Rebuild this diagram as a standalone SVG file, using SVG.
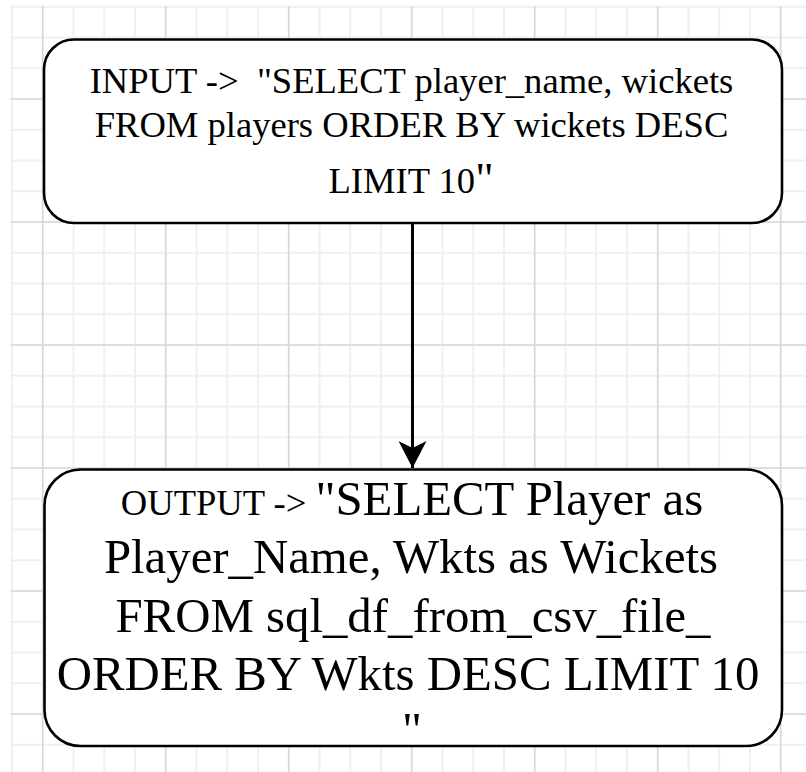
<svg xmlns="http://www.w3.org/2000/svg" width="806" height="772" viewBox="0 0 806 772">
<style>
.minor{stroke:#f0f0f0;stroke-width:2}
.major{stroke:#d8d8d8;stroke-width:1.5}
.box{fill:#ffffff;stroke:#000000;stroke-width:2.6}
.t{font-family:"Liberation Serif","Times New Roman",serif;fill:#000000;text-anchor:middle}
.s{font-size:36.6px}
.b{font-size:48.8px}
.edge{stroke:#000000;stroke-width:3;fill:none}
</style>
<defs>
<marker id="arrow" viewBox="0 0 28 28" markerWidth="28" markerHeight="28" refX="27" refY="14" orient="auto" markerUnits="userSpaceOnUse">
<path d="M0,0 L27,14 L0,28 L7,14 Z" fill="#000000"/>
</marker>
</defs>
<rect x="0" y="0" width="806" height="772" fill="#ffffff"/>
<g id="grid">
<g class="minor">
<path d="M12,6V772M42.7,6V772M73.5,6V772M104.2,6V772M135,6V772M165.7,6V772M196.5,6V772M227.2,6V772M258,6V772M288.7,6V772M319.5,6V772M350.2,6V772M381,6V772M411.7,6V772M442.5,6V772M473.2,6V772M504,6V772M534.7,6V772M565.5,6V772M596.2,6V772M627,6V772M657.7,6V772M688.5,6V772M719.2,6V772M750,6V772M780.7,6V772"/>
<path d="M10,6.8H806M10,37.5H806M10,68.3H806M10,99H806M10,129.8H806M10,160.5H806M10,191.3H806M10,222H806M10,252.8H806M10,283.5H806M10,314.3H806M10,345H806M10,375.8H806M10,406.5H806M10,437.3H806M10,468H806M10,498.8H806M10,529.5H806M10,560.3H806M10,591H806M10,621.8H806M10,652.5H806M10,683.3H806M10,714H806M10,744.8H806"/>
</g>
<g class="major">
<path d="M42.7,6V772M165.7,6V772M288.7,6V772M411.7,6V772M534.7,6V772M657.7,6V772M780.7,6V772"/>
<path d="M10,99H806M10,222H806M10,345H806M10,468H806M10,591H806M10,714H806"/>
</g>
</g>
<g id="connectors">
<line class="edge" x1="412.5" y1="224" x2="412.5" y2="468" marker-end="url(#arrow)"/>
</g>
<g id="input-node">
<rect class="box" x="44" y="39.5" width="738" height="183.5" rx="30" ry="30"/>
<text class="t s" x="411.5" y="92.5">INPUT -&gt;&#160; "SELECT player_name, wickets</text>
<text class="t s" x="411.5" y="136.7">FROM players ORDER BY wickets DESC</text>
<text class="t s" x="411" y="192.7">LIMIT 10<tspan style="font-size:45px">"</tspan></text>
</g>
<g id="output-node">
<rect class="box" x="44.5" y="469.5" width="737.5" height="276.5" rx="36" ry="36"/>
<text class="t" x="412" y="514.5"><tspan class="s">OUTPUT -&gt; </tspan><tspan class="b">"SELECT Player as</tspan></text>
<text class="t b" x="411" y="572.5">Player_Name, Wkts as Wickets</text>
<text class="t b" x="413" y="631.5">FROM sql_df_from_csv_file_</text>
<text class="t b" x="408" y="690">ORDER BY Wkts DESC LIMIT 10</text>
<text class="t b" x="412" y="746">"</text>
</g>
</svg>
